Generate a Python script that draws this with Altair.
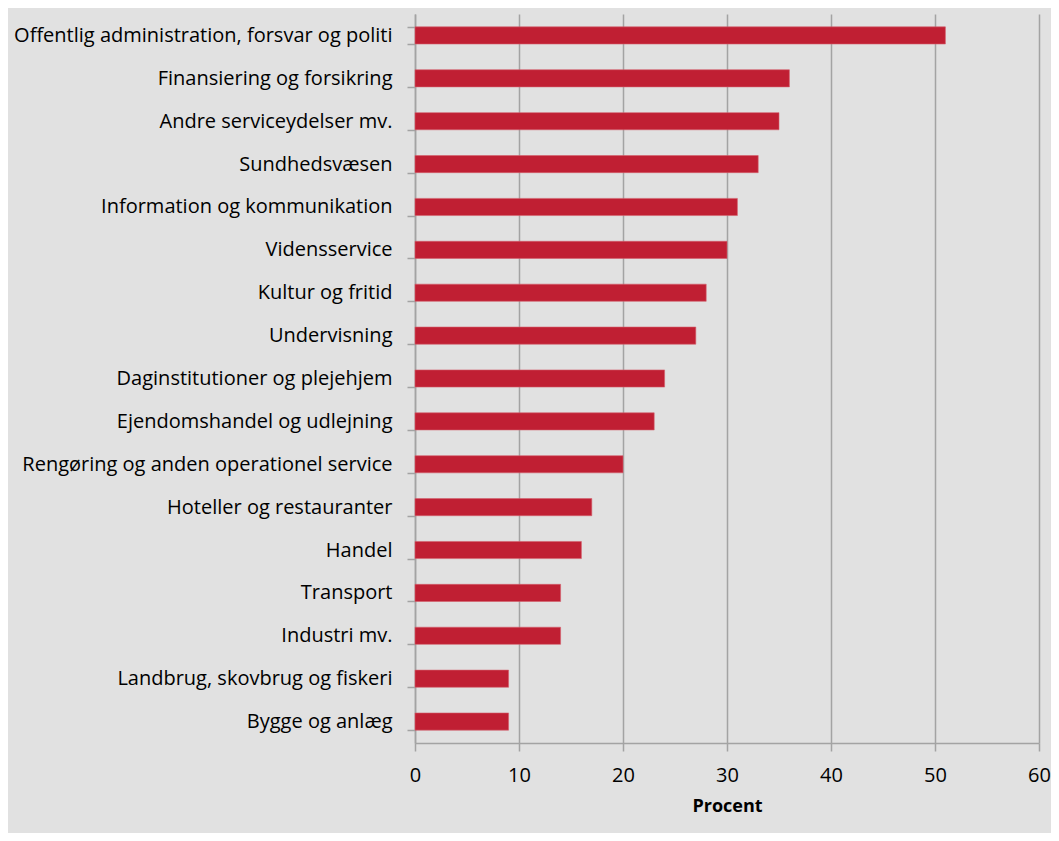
import altair as alt
import pandas as pd

categories = [
    "Offentlig administration, forsvar og politi",
    "Finansiering og forsikring",
    "Andre serviceydelser mv.",
    "Sundhedsvæsen",
    "Information og kommunikation",
    "Vidensservice",
    "Kultur og fritid",
    "Undervisning",
    "Daginstitutioner og plejehjem",
    "Ejendomshandel og udlejning",
    "Rengøring og anden operationel service",
    "Hoteller og restauranter",
    "Handel",
    "Transport",
    "Industri mv.",
    "Landbrug, skovbrug og fiskeri",
    "Bygge og anlæg",
]
values = [51, 36, 35, 33, 31, 30, 28, 27, 24, 23, 20, 17, 16, 14, 14, 9, 9]
x_ticks = [0, 10, 20, 30, 40, 50, 60]

df = pd.DataFrame({"Branche": categories, "Procent": values})

FONT = "Open Sans"
GRID = "#a3a3a3"

chart = (
    alt.Chart(df)
    .mark_bar(color="#c01f33", stroke="#d4606c", strokeWidth=0.6)
    .encode(
        x=alt.X(
            "Procent:Q",
            scale=alt.Scale(domain=[0, 60], nice=False),
            axis=alt.Axis(
                values=x_ticks,
                title="Procent",
                titleFont=FONT,
                titleFontSize=18,
                titleFontWeight="bold",
                titleColor="#000000",
                titlePadding=12,
                labelFont=FONT,
                labelFontSize=20,
                labelColor="#000000",
                labelPadding=14,
                labelFlush=False,
                tickSize=8,
                tickColor=GRID,
                domainColor=GRID,
                domainWidth=1.5,
                tickWidth=1.5,
                grid=True,
                gridColor=GRID,
                gridWidth=1.5,
            ),
        ),
        y=alt.Y(
            "Branche:N",
            sort=categories,
            scale=alt.Scale(paddingInner=0.6, paddingOuter=0.3),
            axis=alt.Axis(
                title=None,
                tickBand="extent",
                labelFont=FONT,
                labelFontSize=20,
                labelColor="#000000",
                labelPadding=15,
                tickSize=8,
                tickColor=GRID,
                tickWidth=1.5,
                domainColor=GRID,
                domainWidth=1.5,
                grid=False,
                labelLimit=500,
            ),
        ),
    )
    .properties(
        width=624,
        height=729,
        background="#e1e1e1",
        padding={"left": 407, "top": 6, "right": 12, "bottom": 90},
        autosize=alt.AutoSizeParams(type="none"),
    )
    .configure_view(stroke=None)
)

chart.save("out.html", embed_options={"renderer": "svg", "actions": False})
